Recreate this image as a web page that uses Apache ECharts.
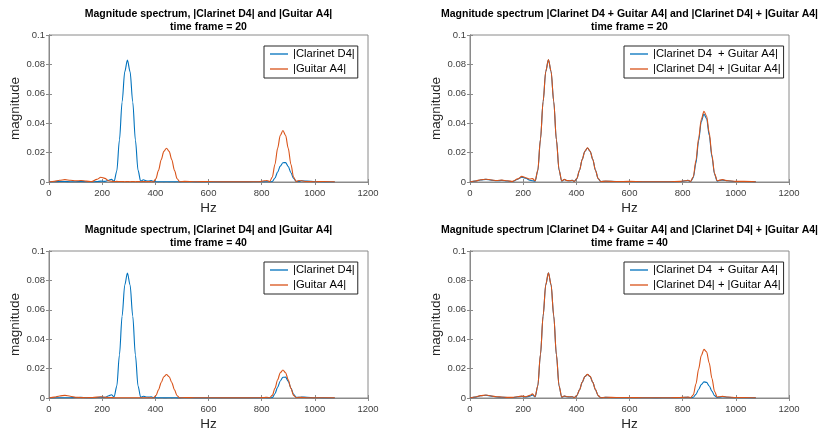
<!DOCTYPE html>
<html>
<head>
<meta charset="utf-8">
<script src="https://cdn.jsdelivr.net/npm/echarts@6/dist/echarts.min.js"></script>
<style>
html,body{margin:0;padding:0;background:#fff;}
#chart{width:818px;height:432px;}
</style>
</head>
<body>
<div id="chart"></div>
<script>
// ---- data ----
const freq = [0,20,40,60,80,100,120,140,160,180,195,210,225,235,245,255,265,275,285,295,305,315,325,335,345,355,365,375,385,392,402,412,422,432,442,452,462,472,482,492,510,550,600,650,700,750,790,810,820,830,840,850,860,870,880,890,900,910,920,930,940,950,970,1000,1030,1075];

const xTicks = [0,200,400,600,800,1000,1200];
const yTicks = [0,0.02,0.04,0.06,0.08,0.1];

const titles = [
  'Magnitude spectrum, |Clarinet D4| and |Guitar A4|\ntime frame = 20',
  'Magnitude spectrum |Clarinet D4 + Guitar A4| and |Clarinet D4| + |Guitar A4|\ntime frame = 20',
  'Magnitude spectrum, |Clarinet D4| and |Guitar A4|\ntime frame = 40',
  'Magnitude spectrum |Clarinet D4 + Guitar A4| and |Clarinet D4| + |Guitar A4|\ntime frame = 40'
];
const namesLeft = ['|Clarinet D4|', '|Guitar A4|'];
const namesRight = ['|Clarinet D4  + Guitar A4|', '|Clarinet D4| + |Guitar A4|'];

// time frame 20
const clar20 = [0,0.0002,0.0003,0.0003,0.0002,0.0002,0.0003,0.0002,0.0001,0.0003,
 0.0006,0.0004,0.0012,0.0018,0.0005,
 0.0075,0.0286,0.0544,0.0751,0.083,
 0.0751,0.0544,0.0286,0.0079,0.0005,
 0.0015,0.0008,0.0006,0.001,0.0004,
 0.0002,0.0001,0.0002,0.0001,0.0002,
 0.0001,0.0002,0.0001,0.0002,0.0001,
 0.0002,0.0001,0.0001,0.0001,0.0001,
 0.0001,0.0002,0.0001,0.0002,0.0001,
 0.0003,0.0027,0.0068,0.0108,0.0131,
 0.0132,0.0105,0.0063,0.0024,0.0005,
 0.0003,0.0008,0.0006,0.0002,0.0001,
 0];
const guit20 = [0,0.0005,0.0012,0.0016,0.0012,0.0008,0.001,0.0006,0.0003,0.0018,
 0.0032,0.0025,0.0008,0.0005,0.0003,
 0.0004,0.0003,0.0003,0.0002,0.0003,
 0.0002,0.0003,0.0002,0.0003,0.0002,
 0.0003,0.0002,0.0003,0.0002,0,
 0.0022,0.0079,0.0151,0.0208,0.023,
 0.0208,0.0151,0.0079,0.0022,0.0002,
 0.0004,0.0002,0.0003,0.0001,0.0001,
 0.0001,0.0002,0.0008,0.001,0.0003,
 0.0033,0.0121,0.0229,0.0317,0.035,
 0.0317,0.0229,0.0121,0.0033,0.0003,
 0.001,0.0008,0.0003,0.0002,0.0003,
 0.0001];
const sumMag20 = [0,0.0006,0.0014,0.0018,0.0013,0.0008,0.0011,0.0007,0.0003,0.0019,
 0.0033,0.0026,0.0012,0.0009,0.0006,
 0.0078,0.0288,0.0546,0.0752,0.0832,
 0.0752,0.0546,0.0287,0.0081,0.0006,
 0.0017,0.0009,0.0008,0.0011,0.0004,
 0.0023,0.008,0.0152,0.0209,0.0231,
 0.0209,0.0152,0.008,0.0023,0.0003,
 0.0005,0.0003,0.0003,0.0002,0.0002,
 0.0002,0.0003,0.0008,0.0011,0.0003,
 0.003,0.013,0.028,0.041,0.0462,
 0.0432,0.0318,0.0172,0.0052,0.0006,
 0.0011,0.0013,0.0008,0.0003,0.0003,
 0.0001];
const magSum20 = [0,0.0007,0.0015,0.0019,0.0014,0.001,0.0013,0.0008,0.0004,0.0021,
 0.0038,0.0029,0.002,0.0023,0.0008,
 0.0079,0.0289,0.0547,0.0753,0.0833,
 0.0753,0.0547,0.0288,0.0082,0.0007,
 0.0018,0.001,0.0009,0.0012,0.0004,
 0.0024,0.008,0.0153,0.0209,0.0232,
 0.0209,0.0153,0.008,0.0024,0.0003,
 0.0006,0.0003,0.0004,0.0002,0.0002,
 0.0002,0.0004,0.0009,0.0012,0.0004,
 0.0036,0.0148,0.0297,0.0425,0.0481,
 0.0449,0.0334,0.0184,0.0057,0.0008,
 0.0013,0.0016,0.0009,0.0004,0.0004,
 0.0001];

// time frame 40
const clar40 = [0,0.0001,0.0002,0.0002,0.0002,0.0003,0.0004,0.0002,0.0001,0.0003,
 0.0005,0.0004,0.0015,0.0022,0.0008,
 0.0081,0.0293,0.0557,0.0769,0.085,
 0.0769,0.0557,0.0293,0.0081,0.0004,
 0.0012,0.0007,0.0006,0.0008,0.0003,
 0.0002,0.0001,0.0002,0.0001,0.0001,
 0.0002,0.0001,0.0002,0.0001,0.0001,
 0.0002,0.0001,0.0001,0.0001,0.0001,
 0.0001,0.0001,0.0002,0.0001,0.0001,
 0.0003,0.0029,0.0073,0.0116,0.0141,
 0.0142,0.0113,0.0068,0.0026,0.0005,
 0.0004,0.0007,0.0005,0.0002,0.0001,
 0];
const guit40 = [0,0.0006,0.0014,0.0018,0.0012,0.0005,0.0003,0.0002,0.0003,0.0006,
 0.0008,0.0005,0.0003,0.0003,0.0002,
 0.0002,0.0002,0.0002,0.0002,0.0002,
 0.0002,0.0002,0.0002,0.0002,0.0002,
 0.0002,0.0002,0.0002,0.0001,0,
 0.0015,0.0055,0.0105,0.0145,0.016,
 0.0145,0.0105,0.0055,0.0015,0.0001,
 0.0003,0.0002,0.0002,0.0001,0.0001,
 0.0001,0.0002,0.0003,0.0005,0.0002,
 0.0018,0.0066,0.0124,0.0172,0.019,
 0.0172,0.0124,0.0066,0.0018,0.0002,
 0.0005,0.0004,0.0002,0.0001,0.0002,
 0.0001];
const sumMag40 = [0,0.0006,0.0015,0.0019,0.0013,0.0007,0.0005,0.0003,0.0003,0.0008,
 0.0011,0.0007,0.0012,0.0021,0.0007,
 0.0082,0.0294,0.0558,0.077,0.0851,
 0.077,0.0558,0.0294,0.0082,0.0005,
 0.0013,0.0008,0.0007,0.0008,0.0003,
 0.0016,0.0056,0.0106,0.0146,0.016,
 0.0146,0.0106,0.0056,0.0016,0.0002,
 0.0004,0.0002,0.0002,0.0002,0.0001,
 0.0002,0.0002,0.0004,0.0005,0.0002,
 0.0005,0.0025,0.0058,0.0091,0.011,
 0.0106,0.0082,0.0047,0.0016,0.0003,
 0.0006,0.0008,0.0005,0.0002,0.0002,
 0.0001];
const magSum40 = [0,0.0007,0.0016,0.002,0.0014,0.0008,0.0007,0.0004,0.0004,0.0009,
 0.0013,0.0009,0.0018,0.0028,0.001,
 0.0083,0.0295,0.0559,0.0771,0.0852,
 0.0771,0.0559,0.0295,0.0083,0.0006,
 0.0014,0.0009,0.0008,0.0009,0.0003,
 0.0017,0.0056,0.0107,0.0146,0.0161,
 0.0147,0.0106,0.0057,0.0016,0.0002,
 0.0005,0.0003,0.0003,0.0002,0.0002,
 0.0002,0.0003,0.0005,0.0006,0.0003,
 0.0021,0.0095,0.0197,0.0288,0.0331,
 0.0314,0.0237,0.0134,0.0044,0.0007,
 0.0009,0.0011,0.0007,0.0003,0.0003,
 0.0001];

// ---- chart ----
const FONT = '"Liberation Sans", Arial, Helvetica, sans-serif';
const BLUE = '#0072BD', ORANGE = '#D95319';
const AXC = '#8a8a8a', TXC = '#404040';
const panels = [
  {left:49, top:35, names:namesLeft, data:[clar20, guit20], legendLeft:264, legendTop:46},
  {left:470, top:35, names:namesRight, data:[sumMag20, magSum20], legendLeft:624, legendTop:46},
  {left:49, top:251, names:namesLeft, data:[clar40, guit40], legendLeft:264, legendTop:262},
  {left:470, top:251, names:namesRight, data:[sumMag40, magSum40], legendLeft:624, legendTop:262}
];
const W = 319, H = 147;

const grid = [], xAxis = [], yAxis = [], series = [], legend = [], graphic = [];
panels.forEach((p, i) => {
  grid.push({left:p.left, top:p.top, width:W, height:H, show:true, borderColor:AXC, borderWidth:1, backgroundColor:'#fff'});
  const xBase = {gridIndex:i, type:'value', min:xTicks[0], max:xTicks[xTicks.length-1], interval:xTicks[1]-xTicks[0],
    splitLine:{show:false}, axisLine:{show:true, lineStyle:{color:AXC, width:1}},
    axisTick:{show:true, inside:true, length:3, lineStyle:{color:AXC}}};
  xAxis.push(Object.assign({}, xBase, {position:'bottom', name:'Hz', nameLocation:'middle', nameGap:19,
    nameTextStyle:{fontFamily:FONT, fontSize:13.5, color:'#262626'},
    axisLabel:{show:true, margin:6, fontFamily:FONT, fontSize:9.5, color:TXC,
      formatter: v => String(v)}}));
  xAxis.push(Object.assign({}, xBase, {position:'top', axisLabel:{show:false}}));
  const yBase = {gridIndex:i, type:'value', min:yTicks[0], max:yTicks[yTicks.length-1], interval:yTicks[1]-yTicks[0],
    splitLine:{show:false}, axisLine:{show:true, lineStyle:{color:AXC, width:1}},
    axisTick:{show:true, inside:true, length:3, lineStyle:{color:AXC}}};
  yAxis.push(Object.assign({}, yBase, {position:'left', name:'magnitude', nameLocation:'middle', nameGap:27,
    nameTextStyle:{fontFamily:FONT, fontSize:13.5, color:'#262626'},
    axisLabel:{show:true, margin:4, fontFamily:FONT, fontSize:9.5, color:TXC,
      formatter: v => String(Math.round(v*100)/100)}}));
  yAxis.push(Object.assign({}, yBase, {position:'right', axisLabel:{show:false}}));

  const colors = [BLUE, ORANGE];
  p.data.forEach((vals, k) => {
    series.push({
      type:'line', name:p.names[k], xAxisIndex:2*i, yAxisIndex:2*i,
      data: freq.map((f, j) => [f, vals[j]]),
      showSymbol:false, symbol:'none', smooth:0.3, smoothMonotone:'x',
      color:colors[k], lineStyle:{color:colors[k], width:1.1}, itemStyle:{color:colors[k]},
      animation:false, silent:true, z:2+k
    });
  });

  legend.push({
    left:p.legendLeft, top:p.legendTop, orient:'vertical',
    data:p.names.map(n => ({name:n, icon:'rect'})),
    itemWidth:18, itemHeight:1.3, itemGap:1,
    padding:[1,3,2,6],
    borderColor:'#262626', borderWidth:1, backgroundColor:'#fff',
    selectedMode:false,
    textStyle:{fontFamily:FONT, fontSize:11.2, color:'#000', lineHeight:14}
  });

  graphic.push({
    type:'text', x:p.left + W/2, y:p.top - 27,
    style:{text:titles[i], align:'center', verticalAlign:'top',
      fontFamily:FONT, fontSize:10.5, fontWeight:'bold', lineHeight:13, fill:'#000'}
  });
});

const chart = echarts.init(document.getElementById('chart'), null, {renderer:'canvas'});
chart.setOption({
  backgroundColor:'#fff',
  animation:false,
  grid, xAxis, yAxis, series, legend, graphic
});
</script>
</body>
</html>
